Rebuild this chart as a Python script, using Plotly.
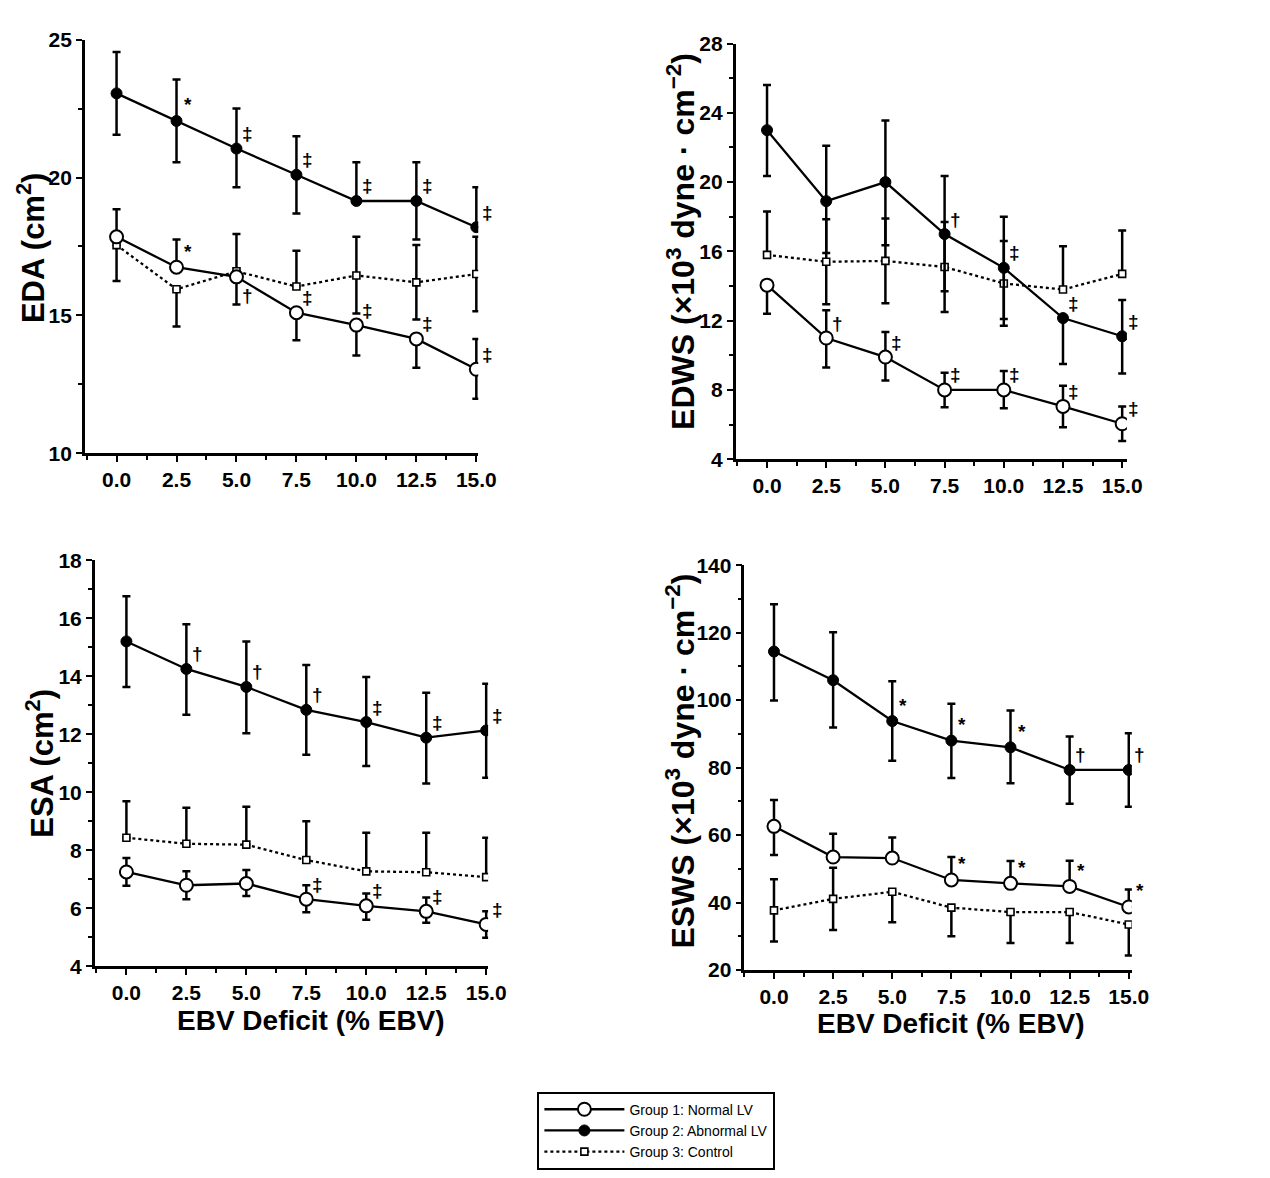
import plotly.graph_objects as go

W, H = 1270, 1178

# ---------------- data ----------------
ebv = [0.0, 2.5, 5.0, 7.5, 10.0, 12.5, 15.0]
x_ticks = [0.0, 2.5, 5.0, 7.5, 10.0, 12.5, 15.0]
x_ticktext = ["0.0", "2.5", "5.0", "7.5", "10.0", "12.5", "15.0"]

group_names = ["Group 1: Normal LV", "Group 2: Abnormal LV", "Group 3: Control"]

# EDA (cm^2)
eda_g1 = [17.85, 16.75, 16.4, 15.1, 14.65, 14.15, 13.05]
eda_g1_up = [1.0, 1.0, 0, 0, 0, 0, 1.1]
eda_g1_dn = [0, 0, 1.0, 1.0, 1.1, 1.05, 1.07]
eda_g2 = [23.05, 22.05, 21.05, 20.1, 19.15, 19.15, 18.2]
eda_g2_up = [1.5, 1.5, 1.45, 1.4, 1.4, 1.4, 1.45]
eda_g2_dn = [1.5, 1.5, 1.4, 1.4, 0, 1.4, 0]
eda_g3 = [17.55, 15.95, 16.6, 16.05, 16.45, 16.2, 16.5]
eda_g3_up = [0, 0, 1.35, 1.3, 1.4, 1.35, 1.35]
eda_g3_dn = [1.3, 1.35, 0, 0, 1.38, 1.35, 1.35]
eda_sig_g1 = ["", "*", "†", "‡", "‡", "‡", "‡"]
eda_sig_g2 = ["", "*", "‡", "‡", "‡", "‡", "‡"]

# EDWS (x10^3 dyne/cm^2)
edws_g1 = [14.05, 11.0, 9.9, 8.0, 8.0, 7.05, 6.05]
edws_g1_up = [0, 1.6, 1.45, 1.0, 1.1, 1.2, 1.0]
edws_g1_dn = [1.65, 1.7, 1.35, 1.0, 1.05, 1.2, 1.0]
edws_g2 = [23.0, 18.9, 20.0, 17.0, 15.05, 12.15, 11.1]
edws_g2_up = [2.6, 3.2, 3.55, 3.35, 2.95, 0, 2.1]
edws_g2_dn = [2.65, 3.0, 3.65, 3.3, 2.95, 2.65, 2.15]
edws_g3 = [15.8, 15.4, 15.45, 15.1, 14.15, 13.8, 14.7]
edws_g3_up = [2.5, 2.45, 2.45, 2.6, 2.45, 2.5, 2.5]
edws_g3_dn = [0, 2.45, 2.45, 2.6, 2.45, 0, 0]
edws_sig_g1 = ["", "†", "‡", "‡", "‡", "‡", "‡"]
edws_sig_g2 = ["", "", "", "†", "‡", "‡", "‡"]

# ESA (cm^2)
esa_g1 = [7.25, 6.79, 6.85, 6.31, 6.08, 5.89, 5.44]
esa_g1_up = [0.48, 0.48, 0.47, 0.48, 0.43, 0.48, 0.45]
esa_g1_dn = [0.48, 0.48, 0.43, 0.45, 0.48, 0.39, 0.46]
esa_g2 = [15.2, 14.25, 13.63, 12.84, 12.42, 11.88, 12.13]
esa_g2_up = [1.56, 1.54, 1.57, 1.55, 1.55, 1.55, 1.61]
esa_g2_dn = [1.57, 1.58, 1.6, 1.55, 1.52, 1.58, 1.63]
esa_g3 = [8.43, 8.22, 8.19, 7.66, 7.27, 7.24, 7.07]
esa_g3_up = [1.26, 1.24, 1.31, 1.34, 1.33, 1.36, 1.36]
esa_g3_dn = [0, 0, 0, 0, 0, 0, 0]
esa_sig_g1 = ["", "", "", "‡", "‡", "‡", "‡"]
esa_sig_g2 = ["", "†", "†", "†", "‡", "‡", "‡"]

# ESWS (x10^3 dyne/cm^2)
esws_g1 = [62.6, 53.5, 53.2, 46.7, 45.7, 44.8, 38.7]
esws_g1_up = [7.8, 6.9, 6.1, 6.8, 6.6, 7.6, 5.2]
esws_g1_dn = [8.5, 0, 0, 0, 0, 0, 0]
esws_g2 = [114.4, 105.9, 93.8, 88.0, 86.0, 79.3, 79.3]
esws_g2_up = [14.0, 14.2, 11.8, 10.9, 10.9, 9.9, 10.9]
esws_g2_dn = [14.5, 14.0, 11.8, 11.1, 10.6, 10.0, 10.9]
esws_g3 = [37.7, 41.1, 43.2, 38.5, 37.2, 37.2, 33.5]
esws_g3_up = [9.2, 9.2, 0, 0, 0, 0, 0]
esws_g3_dn = [9.2, 9.2, 9.0, 8.5, 9.2, 9.2, 9.2]
esws_sig_g1 = ["", "", "", "*", "*", "*", "*"]
esws_sig_g2 = ["", "", "*", "*", "*", "†", "†"]

# ---------------- layout geometry (pixels) ----------------
panels = [
    dict(name="EDA", px=(78, 477), py=(20, 442), xr=(-1.32, 15.08), yr=(10, 25),
         ytick=5, yminor=2.5,
         g=[(eda_g1, eda_g1_up, eda_g1_dn), (eda_g2, eda_g2_up, eda_g2_dn), (eda_g3, eda_g3_up, eda_g3_dn)],
         sig=(eda_sig_g1, eda_sig_g2),
         ytitle="EDA (cm<sup>2</sup>)", ytpos=(24, 233), ytsize=31, xtitle=None),
    dict(name="EDWS", px=(738, 1135), py=(24, 448), xr=(-1.33, 15.2), yr=(4, 28),
         ytick=4, yminor=2,
         g=[(edws_g1, edws_g1_up, edws_g1_dn), (edws_g2, edws_g2_up, edws_g2_dn), (edws_g3, edws_g3_up, edws_g3_dn)],
         sig=(edws_sig_g1, edws_sig_g2),
         ytitle="EDWS (×10<sup>3</sup> dyne · cm<sup>−2</sup>)", ytpos=(682, 226), ytsize=32, xtitle=None),
    dict(name="ESA", px=(88, 487), py=(551, 965), xr=(-1.32, 15.08), yr=(4, 18),
         ytick=2, yminor=1,
         g=[(esa_g1, esa_g1_up, esa_g1_dn), (esa_g2, esa_g2_up, esa_g2_dn), (esa_g3, esa_g3_up, esa_g3_dn)],
         sig=(esa_sig_g1, esa_sig_g2),
         ytitle="ESA (cm<sup>2</sup>)", ytpos=(33, 758), ytsize=31, xtitle=(307, 1020)),
    dict(name="ESWS", px=(747, 1140), py=(556, 969), xr=(-1.25, 15.13), yr=(20, 140),
         ytick=20, yminor=10,
         g=[(esws_g1, esws_g1_up, esws_g1_dn), (esws_g2, esws_g2_up, esws_g2_dn), (esws_g3, esws_g3_up, esws_g3_dn)],
         sig=(esws_sig_g1, esws_sig_g2),
         ytitle="ESWS (×10<sup>3</sup> dyne · cm<sup>−2</sup>)", ytpos=(682, 756), ytsize=32, xtitle=(957, 1023)),
]

FONT = "Liberation Sans Narrow, Arial Narrow, Liberation Sans, Arial, sans-serif"

styles = [
    dict(mode="lines+markers", line=dict(color="black", width=2.3),
         marker=dict(symbol="circle", size=13, color="white", line=dict(color="black", width=2))),
    dict(mode="lines+markers", line=dict(color="black", width=2.3),
         marker=dict(symbol="circle", size=11, color="black", line=dict(color="black", width=1))),
    dict(mode="lines+markers", line=dict(color="black", width=2.3, dash="dot"),
         marker=dict(symbol="square", size=7, color="white", line=dict(color="black", width=1.6))),
]

fig = go.Figure()
annotations = []

for i, p in enumerate(panels):
    k = "" if i == 0 else str(i + 1)
    xa, ya = "x" + k, "y" + k
    for gi in [2, 0, 1]:
        vals, up, dn = p["g"][gi]
        fig.add_trace(go.Scatter(
            x=ebv, y=vals, xaxis=xa, yaxis=ya,
            name=group_names[gi], legendrank=gi + 1,
            showlegend=(i == 0),
            error_y=dict(type="data", symmetric=False, array=up, arrayminus=dn,
                         color="black", thickness=2.5, width=4),
            **styles[gi]))
    # significance symbols
    for gi, sig in zip([0, 1], p["sig"]):
        vals = p["g"][gi][0]
        for xv, yv, s in zip(ebv, vals, sig):
            if not s:
                continue
            ysh = 15
            if p["name"] == "EDA" and gi == 0 and xv == 5.0:
                ysh = -19
            if s == "*":
                ysh = ysh + 1 if ysh > 0 else ysh
            annotations.append(dict(
                x=xv, y=yv, xref=xa, yref=ya, text=s, showarrow=False,
                xshift=11, yshift=ysh, xanchor="center", yanchor="middle",
                font=dict(family="Liberation Sans, Arial", size=19, color="black", weight="bold")))
    dom_x = [p["px"][0] / W, p["px"][1] / W]
    dom_y = [1 - p["py"][1] / H, 1 - p["py"][0] / H]
    axis_common = dict(showline=True, linecolor="black", linewidth=2.5, ticks="outside",
                       tickcolor="black", tickwidth=2, ticklen=6, showgrid=False, zeroline=False,
                       tickfont=dict(family=FONT, size=21, color="black", weight="bold"))
    fig.update_layout(**{
        "xaxis" + k: dict(domain=dom_x, range=list(p["xr"]), anchor=ya,
                          tickvals=x_ticks, ticktext=x_ticktext,
                          minor=dict(dtick=1.25, tick0=0, ticks="outside", ticklen=4,
                                     tickcolor="black", tickwidth=1.5, showgrid=False),
                          **axis_common),
        "yaxis" + k: dict(domain=dom_y, range=list(p["yr"]), anchor=xa,
                          dtick=p["ytick"], tick0=p["yr"][0],
                          minor=dict(dtick=p["yminor"], tick0=p["yr"][0], ticks="outside", ticklen=4,
                                     tickcolor="black", tickwidth=1.5, showgrid=False),
                          **axis_common),
    })
    annotations.append(dict(
        x=p["ytpos"][0] / W, y=1 - p["ytpos"][1] / H, xref="paper", yref="paper",
        text=p["ytitle"], textangle=-90, showarrow=False, xanchor="center", yanchor="middle",
        font=dict(family=FONT, size=p["ytsize"], color="black", weight="bold")))
    if p["xtitle"]:
        annotations.append(dict(
            x=p["xtitle"][0] / W, y=1 - p["xtitle"][1] / H, xref="paper", yref="paper",
            text="EBV Deficit (% EBV)", showarrow=False, xanchor="center", yanchor="middle",
            font=dict(family=FONT, size=28, color="black", weight="bold")))

fig.update_layout(
    width=W, height=H, margin=dict(l=0, r=0, t=0, b=0),
    paper_bgcolor="white", plot_bgcolor="white",
    annotations=annotations,
    legend=dict(x=537 / W, y=1 - 1093 / H, xanchor="left", yanchor="top",
                bordercolor="black", borderwidth=2, bgcolor="white",
                itemwidth=80, font=dict(family="Liberation Sans, Arial", size=14, color="black"),
                traceorder="normal"),
)

fig.write_html("out.html")
